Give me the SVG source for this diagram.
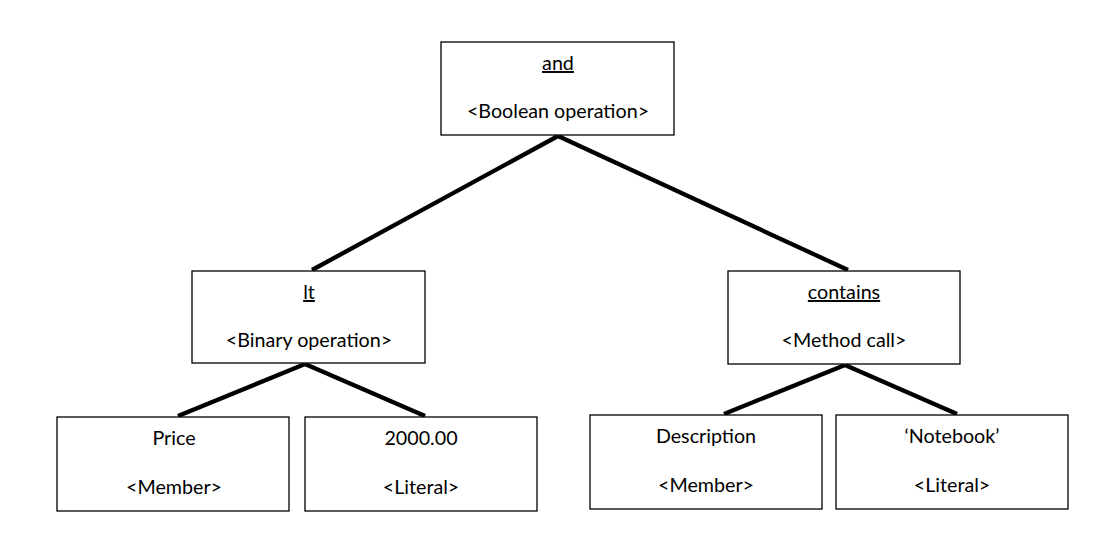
<svg xmlns="http://www.w3.org/2000/svg" width="1105" height="550" viewBox="0 0 1105 550">
<style>
rect.n{fill:#fff;stroke:#000;stroke-width:1.3}
text{font-family:Lato,"Open Sans","Liberation Sans",sans-serif;font-size:19.7px;fill:#000;text-anchor:middle}
.u{text-decoration:underline}
.c line{stroke:#000;stroke-width:4.3;stroke-linecap:butt}
</style>
<rect width="1105" height="550" fill="#fff"/>
<g class="c" id="connectors">
<line x1="558" y1="136" x2="312" y2="270"/>
<line x1="558" y1="136" x2="848" y2="270"/>
<line x1="305" y1="364" x2="178" y2="416"/>
<line x1="305" y1="364" x2="425" y2="416"/>
<line x1="845" y1="365" x2="724" y2="414"/>
<line x1="845" y1="365" x2="957" y2="414"/>
</g>
<g id="and"><rect class="n" x="441" y="42" width="233" height="93"/><text class="u" x="558" y="70">and</text><text x="558" y="118">&lt;Boolean operation&gt;</text></g>
<g id="lt"><rect class="n" x="192" y="271" width="233" height="92"/><text class="u" x="309" y="299">lt</text><text x="309" y="347">&lt;Binary operation&gt;</text></g>
<g id="contains"><rect class="n" x="728" y="271" width="232" height="93"/><text class="u" x="844" y="299">contains</text><text x="844" y="347">&lt;Method call&gt;</text></g>
<g id="price"><rect class="n" x="57" y="417" width="232" height="94"/><text x="174" y="445">Price</text><text x="174" y="494">&lt;Member&gt;</text></g>
<g id="num"><rect class="n" x="305" y="417" width="232" height="94"/><text x="421" y="445">2000.00</text><text x="421" y="494">&lt;Literal&gt;</text></g>
<g id="desc"><rect class="n" x="590" y="415" width="232" height="94"/><text x="706" y="443">Description</text><text x="706" y="492">&lt;Member&gt;</text></g>
<g id="notebook"><rect class="n" x="836" y="415" width="232" height="94"/><text x="952" y="443">‘Notebook’</text><text x="952" y="492">&lt;Literal&gt;</text></g>
</svg>
